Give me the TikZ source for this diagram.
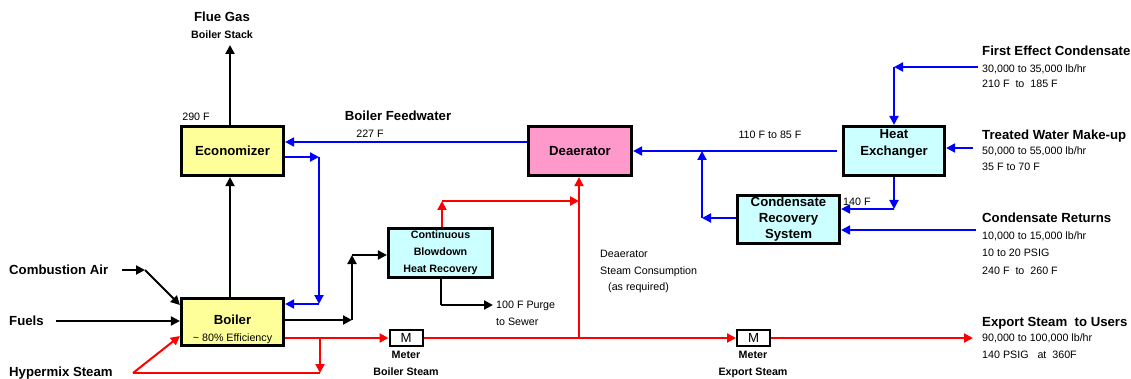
\documentclass[tikz,border=0pt]{standalone}
\usepackage{fontspec}
\setmainfont{Liberation Sans}
\usetikzlibrary{arrows.meta}
\definecolor{ecoY}{HTML}{FFFF99}
\definecolor{deaP}{HTML}{FF99CC}
\definecolor{hxC}{HTML}{CCFFFF}
\definecolor{pBlue}{HTML}{0000FF}
\definecolor{pRed}{HTML}{FF0000}
\tikzset{
  bigtxt/.style={inner sep=0pt, font=\fontsize{13.2}{17}\selectfont\bfseries, text height=9.5pt, text depth=0pt},
  smtxt/.style={inner sep=0pt, font=\fontsize{10.7}{13}\selectfont, text height=7.7pt, text depth=0pt},
  smbold/.style={inner sep=0pt, font=\fontsize{10.7}{13}\selectfont\bfseries, text height=7.7pt, text depth=0pt},
  unitbox/.style={draw=black, line width=3.2pt, inner sep=0pt, align=center},
  meterbox/.style={draw=black, line width=2pt, fill=white, inner sep=0pt, minimum width=33pt, minimum height=16pt, font=\fontsize{13.2}{15}\selectfont},
  arr/.style={-{Triangle[length=9pt,width=9pt]}},
  blk/.style={draw=black, line width=2pt},
  bl/.style={draw=pBlue, line width=2pt},
  rd/.style={draw=pRed, line width=2pt},
  rdthin/.style={draw=pRed, line width=1.1pt},
}
\begin{document}
\begin{tikzpicture}[x=1pt,y=-1pt]
\useasboundingbox (0,0) rectangle (1131,379);

% ---------- boxes ----------
\node[unitbox, fill=ecoY, minimum width=102pt, minimum height=49pt, font=\fontsize{13.2}{17}\selectfont\bfseries] (eco) at (232.5,151) {Economizer};
\node[unitbox, fill=ecoY, minimum width=102pt, minimum height=47pt] (boiler) at (232.5,322) {};
\node[bigtxt] (boilert) at (232.5,320) {Boiler};
\node[smtxt] (boilere) at (232.5,338) {\textasciitilde\ 80\% Efficiency};
\node[unitbox, fill=deaP, minimum width=103pt, minimum height=49pt, font=\fontsize{13.2}{17}\selectfont\bfseries] (deaer) at (580,151) {Deaerator};
\node[unitbox, fill=hxC, minimum width=101pt, minimum height=49pt] (he) at (894,151) {};
\node[bigtxt] (het1) at (894,134) {Heat};
\node[bigtxt] (het2) at (894,151) {Exchanger};
\node[unitbox, fill=hxC, minimum width=102pt, minimum height=48pt, font=\fontsize{13.2}{16}\selectfont\bfseries] (crs) at (788.5,219.5) {Condensate\\Recovery\\System};
\node[unitbox, fill=hxC, minimum width=104pt, minimum height=49pt, font=\fontsize{10.7}{17}\selectfont\bfseries] (cb) at (440.5,253) {Continuous\\Blowdown\\Heat Recovery};
\node[meterbox] (m1) at (406,338) {M};
\node[meterbox] (m2) at (753.5,338) {M};

% ---------- texts ----------
\node[bigtxt] (flue) at (222,17) {Flue Gas};
\node[smbold] (stack) at (222,35) {Boiler Stack};
\node[smtxt] (t290) at (196,117) {290 F};
\node[bigtxt] (bfw) at (398,116) {Boiler Feedwater};
\node[smtxt] (t227) at (370,134) {227 F};
\node[bigtxt, anchor=west] (ca) at (9,270) {Combustion Air};
\node[bigtxt, anchor=west] (fu) at (9,321) {Fuels};
\node[bigtxt, anchor=west] (hy) at (9,372) {Hypermix Steam};
\node[smtxt, anchor=west] (purge1) at (496,305) {100 F Purge};
\node[smtxt, anchor=west] (purge2) at (496,322) {to Sewer};
\node[smbold] (met1) at (406,355) {Meter};
\node[smbold] (met1b) at (406,372) {Boiler Steam};
\node[smbold] (met2) at (753,355) {Meter};
\node[smbold] (met2b) at (753,372) {Export Steam};
\node[smtxt, anchor=west] (dsc1) at (600,254) {Deaerator};
\node[smtxt, anchor=west] (dsc2) at (600,271) {Steam Consumption};
\node[smtxt, anchor=west] (dsc3) at (608,287) {(as required)};
\node[smtxt] (t110) at (770,135) {110 F to 85 F};
\node[smtxt, anchor=west] (t140) at (843,202) {140 F};

\node[bigtxt, anchor=west] (fec) at (982,51) {First Effect Condensate};
\node[smtxt, anchor=west] (fec1) at (982,69) {30,000 to 35,000 lb/hr};
\node[smtxt, anchor=west] (fec2) at (982,84) {210 F~ to~ 185 F};
\node[bigtxt, anchor=west] (twm) at (982,135) {Treated Water Make-up};
\node[smtxt, anchor=west] (twm1) at (982,151) {50,000 to 55,000 lb/hr};
\node[smtxt, anchor=west] (twm2) at (982,167) {35 F to 70 F};
\node[bigtxt, anchor=west] (cr) at (982,218) {Condensate Returns};
\node[smtxt, anchor=west] (cr1) at (982,236) {10,000 to 15,000 lb/hr};
\node[smtxt, anchor=west] (cr2) at (982,253) {10 to 20 PSIG};
\node[smtxt, anchor=west] (cr3) at (982,271) {240 F~ to~ 260 F};
\node[bigtxt, anchor=west] (ex) at (982,322) {Export Steam~ to Users};
\node[smtxt, anchor=west] (ex1) at (982,338) {90,000 to 100,000 lb/hr};
\node[smtxt, anchor=west] (ex2) at (982,355) {140 PSIG~~ at~ 360F};

% ---------- coordinates ----------
\coordinate (flueend) at (230,45);
\coordinate (eb1) at (319,157);
\coordinate (eb2) at (319,304);
\coordinate (ca1) at (122,270);
\coordinate (ca2) at (145,270);
\coordinate (fu1) at (56,321);
\coordinate (hy1) at (133,373);
\coordinate (hy2) at (320,373);
\coordinate (hy3) at (320,338);
\coordinate (bo1) at (352,320);
\coordinate (bo2) at (352,255);
\coordinate (pu1) at (440.5,305);
\coordinate (pu2) at (493,305);
\coordinate (cbr1) at (442,201);
\coordinate (cbr2) at (579,201);
\coordinate (dsj) at (579,338);
\coordinate (exend) at (973,338);
\coordinate (hew) at (837,151);
\coordinate (br1) at (702,218);
\coordinate (br2) at (702,151);
\coordinate (heb) at (894,209);
\coordinate (fe1) at (978,67);
\coordinate (fe2) at (894,67);
\coordinate (twend) at (973,148);
\coordinate (crend) at (976,230);

% ---------- black flows ----------
\draw[blk, arr] (eco.north -| flueend) -- (flueend);
\draw[blk, arr] (boiler.north -| flueend) -- (eco.south -| flueend);
\draw[blk, arr] (ca1) -- (ca2);
\draw[blk, arr] (ca2) -- (boiler.west |- 0,305);
\draw[blk, arr] (fu1) -- (boiler.west |- fu1);
\draw[blk, arr] (boiler.east |- bo1) -- (bo1);
\draw[blk, arr] (bo1) -- (bo2);
\draw[blk, arr] (bo2) -- (cb.west |- bo2);
\draw[blk] (cb.south) -- (pu1);
\draw[blk, arr] (pu1) -- (pu2);

% ---------- blue flows ----------
\draw[bl, arr] (deaer.west |- 0,142) -- (eco.east |- 0,142);
\draw[bl, arr] (eco.east |- eb1) -- (eb1);
\draw[bl, arr] (eb1) -- (eb2);
\draw[bl, arr] (eb2) -- (boiler.east |- eb2);
\draw[bl, arr] (hew) -- (deaer.east);
\draw[bl, arr] (crs.west |- br1) -- (br1);
\draw[bl, arr] (br1) -- (br2);
\draw[bl, arr] (he.south) -- (heb);
\draw[bl, arr] (heb) -- (crs.east |- heb);
\draw[bl, arr] (fe1) -- (fe2);
\draw[bl, arr] (fe2) -- (he.north);
\draw[bl, arr] (twend) -- (he.east |- twend);
\draw[bl, arr] (crend) -- (crs.east |- crend);

% ---------- red flows ----------
\draw[rd, arr] (boiler.east |- m1) -- (m1.west);
\draw[rd, arr] (hy3) -- (hy2);
\draw[rdthin] (hy2) -- (hy1);
\draw[rd, arr] (hy1) -- (boiler.west |- 0,336);
\draw[rd, arr] (m1.east) -- (m2.west);
\draw[rd, arr] (m2.east) -- (exend);
\draw[rd, arr] (dsj) -- (deaer.south -| dsj);
\draw[rd, arr] (cb.north -| cbr1) -- (cbr1);
\draw[rd, arr] (cbr1) -- (cbr2);
\end{tikzpicture}
\end{document}
